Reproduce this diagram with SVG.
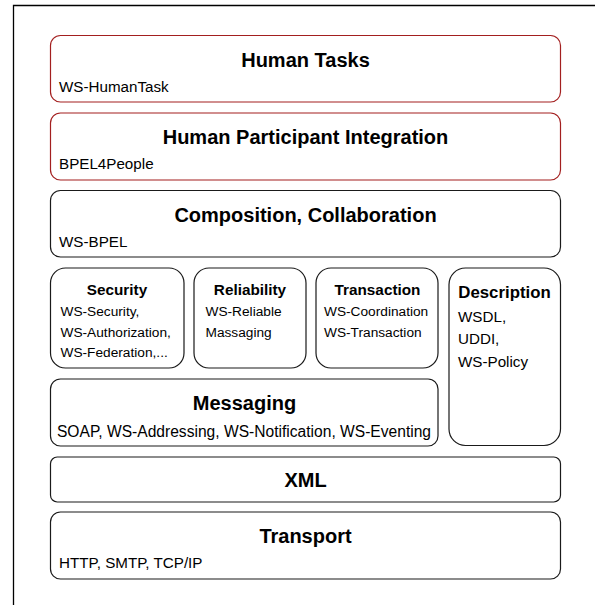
<svg xmlns="http://www.w3.org/2000/svg" width="595" height="605" viewBox="0 0 595 605">
<style>
text{font-family:"Liberation Sans",Arial,Helvetica,sans-serif;fill:#000}
.box{fill:#fff;stroke:#1a1a1a;stroke-width:1.2}
.red{fill:#fff;stroke:#a31f1f;stroke-width:1.2}
.t{font-weight:bold;font-size:20px;text-anchor:middle}
.ts{font-weight:bold;font-size:15.3px;text-anchor:middle}
.s{font-size:15.2px}
.ss{font-size:13.7px}
</style>
<rect width="595" height="605" fill="#fff"/>
<path d="M13.5 605V5.5H595" fill="none" stroke="#000" stroke-width="1.3"/>
<g id="human-tasks">
<rect class="red" x="50.5" y="35.5" width="510" height="66.5" rx="10"/>
<text class="t" x="305.5" y="67">Human Tasks</text>
<text class="s" x="59" y="92">WS-HumanTask</text>
</g>
<g id="human-participant">
<rect class="red" x="50.5" y="113" width="510" height="67" rx="10"/>
<text class="t" x="305.5" y="144">Human Participant Integration</text>
<text class="s" x="59" y="169">BPEL4People</text>
</g>
<g id="composition">
<rect class="box" x="50.5" y="190.5" width="510" height="66.5" rx="10"/>
<text class="t" x="305.5" y="222">Composition, Collaboration</text>
<text class="s" x="59" y="247">WS-BPEL</text>
</g>
<g id="security">
<rect class="box" x="50.5" y="268" width="133.5" height="100" rx="15"/>
<text class="ts" x="117" y="294.5">Security</text>
<text class="ss" x="60.5" y="316">WS-Security,</text>
<text class="ss" x="60.5" y="336.5">WS-Authorization,</text>
<text class="ss" x="60.5" y="357">WS-Federation,...</text>
</g>
<g id="reliability">
<rect class="box" x="194" y="268" width="112" height="100" rx="15"/>
<text class="ts" x="250" y="294.5">Reliability</text>
<text class="ss" x="205.5" y="316">WS-Reliable</text>
<text class="ss" x="205.5" y="336.5">Massaging</text>
</g>
<g id="transaction">
<rect class="box" x="316" y="268" width="122" height="100" rx="15"/>
<text class="ts" x="377.5" y="294.5">Transaction</text>
<text class="ss" x="324" y="316">WS-Coordination</text>
<text class="ss" x="324" y="336.5">WS-Transaction</text>
</g>
<g id="description">
<rect class="box" x="449" y="268" width="111.5" height="177.5" rx="16.5"/>
<text x="504.5" y="298" style="font-weight:bold;font-size:16.8px;text-anchor:middle">Description</text>
<text class="s" x="458" y="321.5">WSDL,</text>
<text class="s" x="458" y="344">UDDI,</text>
<text class="s" x="458" y="366.5">WS-Policy</text>
</g>
<g id="messaging">
<rect class="box" x="50.5" y="379" width="387.5" height="67" rx="10"/>
<text class="t" x="244.5" y="410">Messaging</text>
<text class="s" x="244" y="436.5" style="text-anchor:middle;font-size:15.6px">SOAP, WS-Addressing, WS-Notification, WS-Eventing</text>
</g>
<g id="xml">
<rect class="box" x="50.5" y="457" width="510" height="45" rx="6.75"/>
<text class="t" x="305.5" y="486.5">XML</text>
</g>
<g id="transport">
<rect class="box" x="50.5" y="512" width="510" height="67" rx="10"/>
<text class="t" x="305.5" y="543">Transport</text>
<text class="s" x="59" y="568">HTTP, SMTP, TCP/IP</text>
</g>
<g id="connectors"/>
</svg>
